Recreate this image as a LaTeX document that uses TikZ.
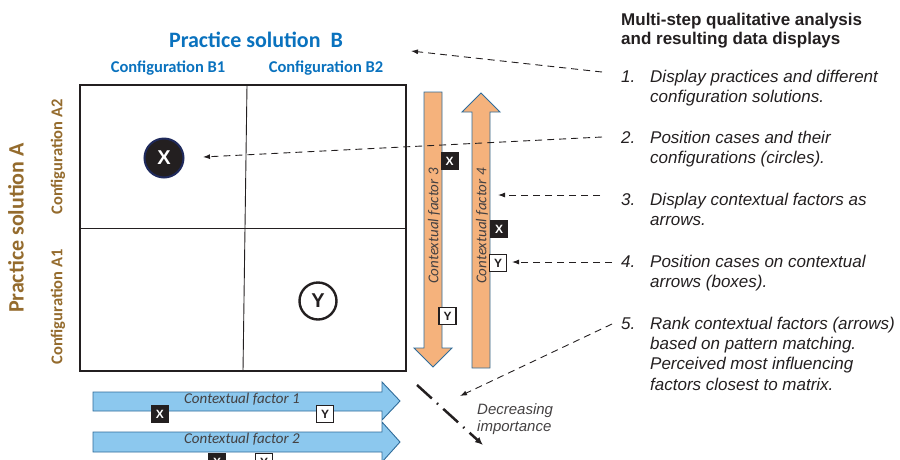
\documentclass[tikz,border=0pt]{standalone}
\usepackage{fontspec}
\usetikzlibrary{arrows.meta}
\newfontfamily\arialf{Liberation Sans}
\newfontfamily\calf{Carlito}
\definecolor{ink}{HTML}{231F20}
\definecolor{solB}{HTML}{0A72BE}
\definecolor{solA}{HTML}{946B2D}
\definecolor{orangefill}{HTML}{F5B27C}
\definecolor{bluefill}{HTML}{8CC8EE}
\definecolor{arrowedge}{HTML}{2F6C9A}
\definecolor{navy}{HTML}{1F2A5C}

\begin{document}
\begin{tikzpicture}[x=1pt,y=-1pt,
  headB/.style={font=\calf\bfseries\fontsize{22}{26}\selectfont, text=solB, inner sep=0pt},
  confB/.style={font=\calf\bfseries\fontsize{16.5}{20}\selectfont, text=solB, inner sep=0pt},
  confA/.style={font=\calf\bfseries\fontsize{16.5}{20}\selectfont, text=solA, rotate=90, inner sep=0pt},
  headA/.style={font=\calf\bfseries\fontsize{22}{26}\selectfont, text=solA, rotate=90, inner sep=0pt},
  gridline/.style={draw=ink, line width=1.1pt},
  ctxorange/.style={draw=arrowedge, fill=orangefill, line width=0.9pt, line join=miter},
  ctxblue/.style={draw=arrowedge, fill=bluefill, line width=0.9pt, line join=miter},
  ctxlabel/.style={font=\calf\itshape\fontsize{15}{18}\selectfont, text=ink!85, inner sep=0pt},
  xbox/.style={fill=ink, text=white, minimum size=18pt, inner sep=0pt, font=\arialf\bfseries\fontsize{12}{12}\selectfont},
  ybox/.style={draw=ink, fill=white, text=ink, line width=1.1pt, minimum size=17pt, inner sep=0pt, font=\arialf\bfseries\fontsize{12}{12}\selectfont},
  titletext/.style={font=\arialf\bfseries\fontsize{17}{20}\selectfont, text=ink, anchor=base west, inner sep=0pt},
  steptext/.style={font=\arialf\itshape\fontsize{17}{20}\selectfont, text=ink, anchor=base west, inner sep=0pt},
  notetext/.style={font=\arialf\itshape\fontsize{15}{17}\selectfont, text=ink!85, anchor=base west, inner sep=0pt},
  pointer/.style={draw=ink, line width=0.9pt, dash pattern=on 7pt off 5pt, -{Latex[length=7pt,width=5pt]}},
]
\clip (0,0) rectangle (900,459);

% headings of the matrix
\node[headB] (pb) at (256,40) {Practice solution\ \ B};
\node[confB] (b1) at (168,68) {Configuration B1};
\node[confB] (b2) at (326,68) {Configuration B2};
\node[headA] (pa) at (16,228) {Practice solution A};
\node[confA] (a2) at (58,157) {Configuration A2};
\node[confA] (a1) at (58,307) {Configuration A1};

% the 2x2 matrix
\draw[gridline] (80,85) rectangle (406,371);
\draw[gridline, line width=0.9pt] (247,85) -- (243,371);
\draw[gridline, line width=0.9pt] (80,228) -- (406,228);

% cases as circles
\node[circle, fill=ink, draw=navy, line width=2pt, minimum size=39pt, inner sep=0pt,
      text=white, font=\arialf\bfseries\fontsize{20}{20}\selectfont] (cx) at (164,158) {X};
\node[circle, fill=white, draw=ink, line width=2.4pt, minimum size=37pt, inner sep=0pt,
      text=ink, font=\arialf\bfseries\fontsize{20}{20}\selectfont] (cy) at (318,301) {Y};

% vertical contextual factors
\draw[ctxorange] (424,92) -- (442,92) -- (442,348) -- (452,348) -- (433,367) -- (414,348) -- (424,348) -- cycle;
\draw[ctxorange] (472,368) -- (490,368) -- (490,112) -- (500,112) -- (481,93) -- (462,112) -- (472,112) -- cycle;
\node[ctxlabel, rotate=90] (f3) at (434,226) {Contextual factor 3};
\node[ctxlabel, rotate=90] (f4) at (482,226) {Contextual factor 4};
\node[xbox] (x3) at (449.5,161) {X};
\node[ybox] (y3) at (447.5,316) {Y};
\node[xbox] (x4) at (499,229) {X};
\node[ybox] (y4) at (498,263) {Y};

% horizontal contextual factors
\draw[ctxblue] (93,392) -- (382,392) -- (382,382) -- (400,401) -- (382,420) -- (382,411) -- (93,411) -- cycle;
\draw[ctxblue] (93,432) -- (382,432) -- (382,422) -- (400,442) -- (382,462) -- (382,452) -- (93,452) -- cycle;
\node[ctxlabel] (f1) at (242,399) {Contextual factor 1};
\node[ctxlabel] (f2) at (242,439) {Contextual factor 2};
\node[xbox] (x1) at (160,414) {X};
\node[ybox] (y1) at (325,414) {Y};
\node[xbox] (x2) at (217,462) {X};
\node[ybox] (y2) at (264,462) {Y};

% ranking direction
\coordinate (rankstart) at (417,385);
\coordinate (rankend) at (483,445);
\draw[ink, line width=2.5pt, dash pattern=on 20pt off 7pt on 1.5pt off 7pt,
      -{Latex[length=8pt,width=7pt]}] (rankstart) -- (rankend);
\node[notetext] (dec1) at (477,414) {Decreasing};
\node[notetext] (dec2) at (477,431) {importance};

% analysis steps
\node[titletext] (t1) at (621,25) {Multi-step qualitative analysis};
\node[titletext] (t2) at (621,44) {and resulting data displays};

\node[steptext] (n1) at (621,82) {1.};
\node[steptext] (s1a) at (650,82) {Display practices and different};
\node[steptext] (s1b) at (650,102) {configuration solutions.};
\node[steptext] (n2) at (621,143) {2.};
\node[steptext] (s2a) at (650,143) {Position cases and their};
\node[steptext] (s2b) at (650,163) {configurations (circles).};
\node[steptext] (n3) at (621,205) {3.};
\node[steptext] (s3a) at (650,205) {Display contextual factors as};
\node[steptext] (s3b) at (650,225) {arrows.};
\node[steptext] (n4) at (621,267) {4.};
\node[steptext] (s4a) at (650,267) {Position cases on contextual};
\node[steptext] (s4b) at (650,287) {arrows (boxes).};
\node[steptext] (n5) at (621,329) {5.};
\node[steptext] (s5a) at (650,329) {Rank contextual factors (arrows)};
\node[steptext] (s5b) at (650,349) {based on pattern matching.};
\node[steptext] (s5c) at (650,369) {Perceived most influencing};
\node[steptext] (s5d) at (650,390) {factors closest to matrix.};

% pointers from the steps to the displays
\coordinate (p1) at (602,72);
\coordinate (p2) at (602,137);
\coordinate (p3) at (600,195);
\coordinate (p4) at (612,262);
\coordinate (p5) at (612,324);
\coordinate (q1) at (411,51);
\coordinate (q2) at (203,157);
\coordinate (q3) at (498,195);
\coordinate (q4) at (512,262);
\coordinate (q5) at (460,396);
\draw[pointer] (p1) -- (q1);
\draw[pointer] (p2) -- (q2);
\draw[pointer] (p3) -- (q3);
\draw[pointer] (p4) -- (q4);
\draw[pointer] (p5) -- (q5);
\end{tikzpicture}
\end{document}
